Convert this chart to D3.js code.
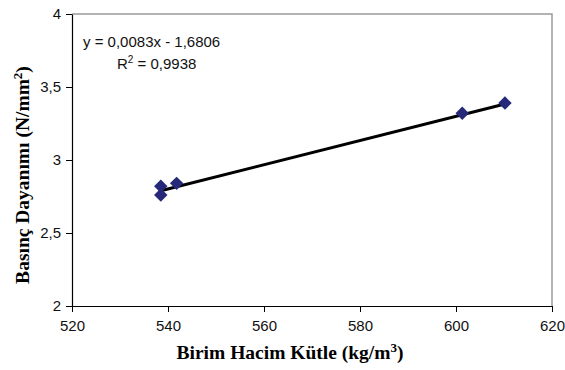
<!DOCTYPE html>
<html><head><meta charset="utf-8">
<script src="https://cdn.jsdelivr.net/npm/d3@7"></script>
<style>body{margin:0;background:#fff}</style>
</head><body>
<svg id="c" width="565" height="370"></svg>
<script>
const xValues = [538.5, 538.5, 541.8, 601.3, 610.2];
const yValues = [2.82, 2.76, 2.84, 3.32, 3.39];
const xTicks = [520, 540, 560, 580, 600, 620];
const yTicks = [2, 2.5, 3, 3.5, 4];
const slope = 0.0083, intercept = -1.6806;
const eqText = "y = 0,0083x - 1,6806";
const r2Text = "0,9938";

const svg = d3.select("#c");
const L = 72, R = 552, T = 14, B = 306;
const x = d3.scaleLinear().domain([520, 620]).range([L, R]);
const y = d3.scaleLinear().domain([2, 4]).range([B, T]);
const fmt = d => String(d).replace(".", ",");

// plot border (top/right gray)
svg.append("path").attr("d", `M${L},${T}H${R}V${B}`).attr("fill", "none").attr("stroke", "#9a9a9a").attr("stroke-width", 1.5);

const xa = svg.append("g").attr("transform", `translate(0,${B})`)
  .call(d3.axisBottom(x).tickValues(xTicks).tickSize(6).tickSizeOuter(0).tickFormat(fmt));
const ya = svg.append("g").attr("transform", `translate(${L},0)`)
  .call(d3.axisLeft(y).tickValues(yTicks).tickSize(6).tickSizeOuter(0).tickFormat(fmt));
[xa, ya].forEach(a => {
  a.select(".domain").attr("stroke", "#000").attr("stroke-width", 1.2);
  a.selectAll(".tick line").attr("stroke", "#000");
  a.selectAll("text").attr("font-family", "Liberation Sans, Arial, sans-serif").attr("font-size", 15).attr("fill", "#111");
});
xa.selectAll("text").attr("dy", "1.05em");
ya.selectAll("text").attr("dx", "-2px");

// trend line
const xmin = d3.min(xValues), xmax = d3.max(xValues);
svg.append("line")
  .attr("x1", x(xmin)).attr("y1", y(slope * xmin + intercept))
  .attr("x2", x(xmax)).attr("y2", y(slope * xmax + intercept))
  .attr("stroke", "#000").attr("stroke-width", 3);

// points
const sym = d3.symbol().type(d3.symbolDiamond2).size(115);
svg.selectAll(".pt").data(xValues.map((v, i) => [v, yValues[i]])).join("path")
  .attr("transform", d => `translate(${x(d[0])},${y(d[1])})`)
  .attr("d", sym).attr("fill", "#26287a");

// equation
const eq = svg.append("g").attr("font-family", "Liberation Sans, Arial, sans-serif").attr("font-size", 15).attr("fill", "#111");
eq.append("text").attr("x", 83).attr("y", 47).text(eqText);
const t2 = eq.append("text").attr("x", 117).attr("y", 69);
t2.append("tspan").text("R");
t2.append("tspan").attr("dy", -6).attr("font-size", 10).text("2");
t2.append("tspan").attr("dy", 6).text(" = " + r2Text);

// axis titles
const tt = svg.append("g").attr("font-family", "Liberation Serif, Times New Roman, serif").attr("font-size", 19.5).attr("font-weight", "bold").attr("fill", "#000");
const xt = tt.append("text").attr("x", 290).attr("y", 359).attr("text-anchor", "middle");
xt.append("tspan").text("Birim Hacim Kütle (kg/m");
xt.append("tspan").attr("dy", -7).attr("font-size", 13).text("3");
xt.append("tspan").attr("dy", 7).text(")");
const yt = tt.append("text").attr("transform", `translate(29,175) rotate(-90)`).attr("text-anchor", "middle");
yt.append("tspan").text("Basınç Dayanımı (N/mm");
yt.append("tspan").attr("dy", -7).attr("font-size", 13).text("2");
yt.append("tspan").attr("dy", 7).text(")");
</script>
</body></html>
